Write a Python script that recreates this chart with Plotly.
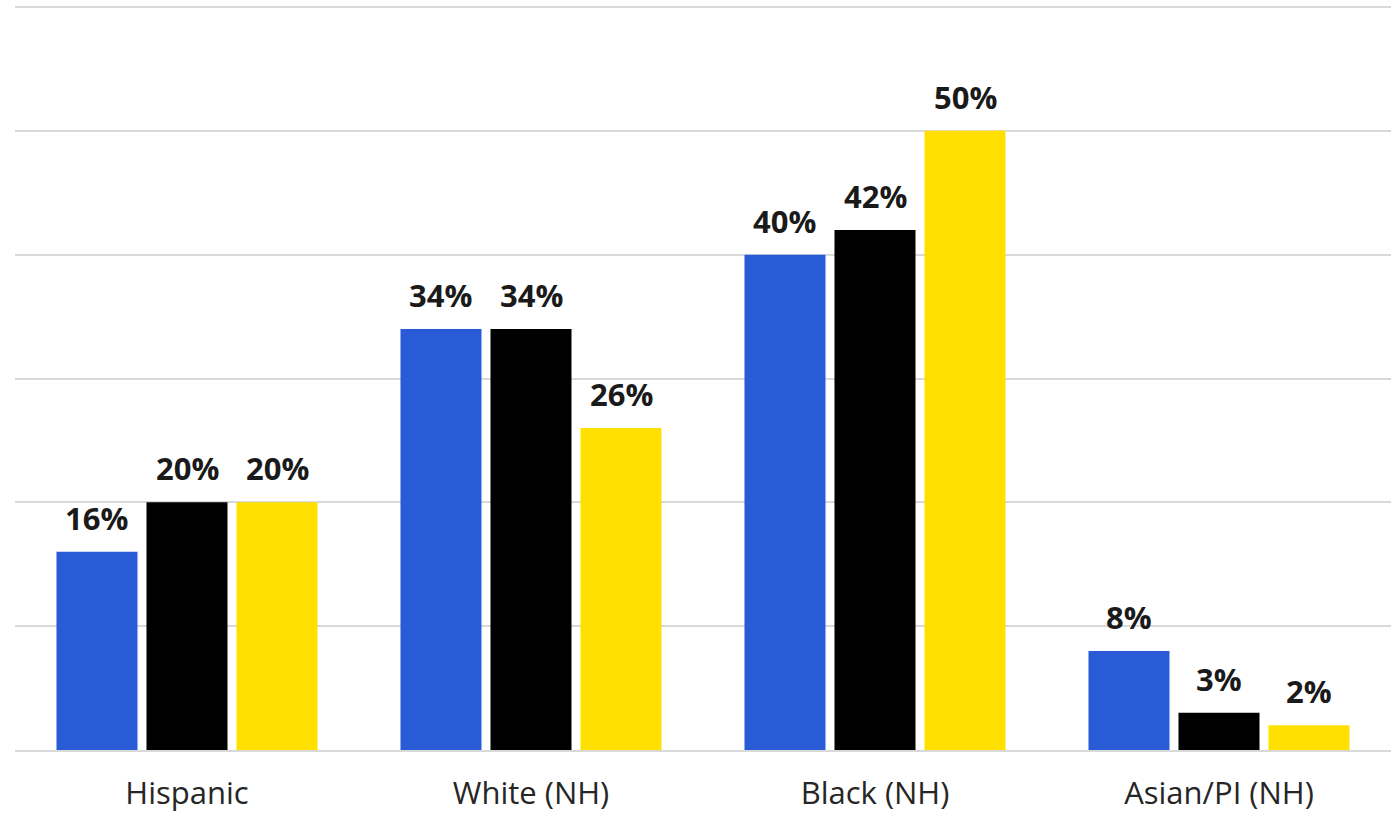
import plotly.graph_objects as go

categories = ["Hispanic", "White (NH)", "Black (NH)", "Asian/PI (NH)"]
series_names = ["Series 1", "Series 2", "Series 3"]
values_1 = [16, 34, 40, 8]
values_2 = [20, 34, 42, 3]
values_3 = [20, 26, 50, 2]
colors = ["#2A5BD7", "#000000", "#FFE000"]

W, H = 1396, 813
ML, MR, MT, MB = 15, 5, 0, 63
BARGAP, GROUPGAP = 0.215, 0.1
cat_px = (W - ML - MR) / len(categories)
slot_px = cat_px * (1 - BARGAP) / 3

fig = go.Figure()
all_series = [values_1, values_2, values_3]
for i, (name, vals, col) in enumerate(zip(series_names, all_series, colors)):
    fig.add_trace(go.Bar(
        x=categories, y=vals, name=name, marker=dict(color=col, line=dict(width=0)),
    ))
    for c, v in zip(categories, vals):
        fig.add_annotation(
            x=c, y=v, xref="x", yref="y", text=f"<b>{v}%</b>", showarrow=False,
            xanchor="center", yanchor="bottom", xshift=(i - 1) * slot_px, yshift=11,
            font=dict(family="Open Sans", size=31, color="#1a1a1a"),
        )

fig.update_layout(
    width=W, height=H,
    margin=dict(l=ML, r=MR, t=MT, b=MB, autoexpand=False),
    paper_bgcolor="white", plot_bgcolor="white",
    barmode="group", bargap=BARGAP, bargroupgap=GROUPGAP,
    showlegend=False,
    font=dict(family="Open Sans"),
    xaxis=dict(tickfont=dict(size=31, color="#262626"), showgrid=False,
               showline=True, linecolor="#d9d9d9", linewidth=2, ticks="",
               ticklabelstandoff=15, automargin=False),
    yaxis=dict(range=[0, 60.565], dtick=10, showticklabels=False, showgrid=True,
               gridcolor="#d9d9d9", gridwidth=2, zeroline=False, automargin=False),
)
fig.write_html("out.html")
